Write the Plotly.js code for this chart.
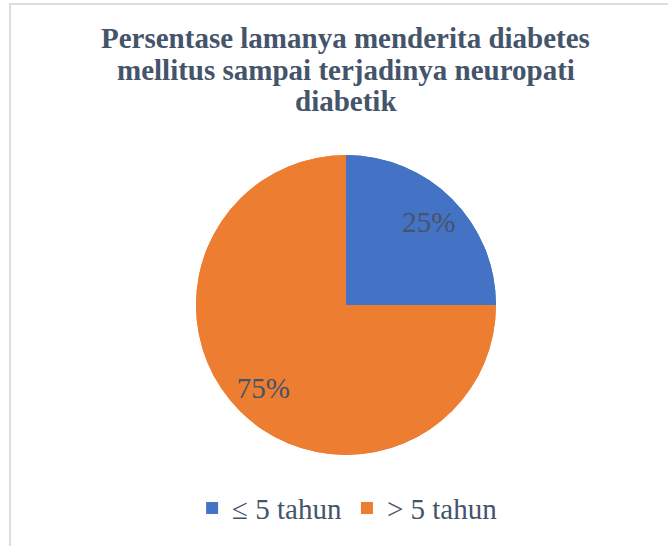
<!DOCTYPE html>
<html>
<head>
<meta charset="utf-8">
<script src="https://cdn.plot.ly/plotly-3.0.1.min.js"></script>
<style>
  html, body { margin: 0; padding: 0; background: #fff; }
  #wrap { position: relative; width: 668px; height: 546px; overflow: hidden; }
  #frame { position: absolute; left: 9px; top: 3px; width: 700px; height: 600px;
           border-top: 2px solid #D9DEE6; border-left: 2px solid #D9DEE6;
           pointer-events: none; z-index: 10; }
  #chart { position: absolute; left: 0; top: 0; width: 668px; height: 546px; }
</style>
</head>
<body>
<div id="wrap">
  <div id="chart"></div>
  <div id="frame"></div>
</div>
<script>
const categories = ["\u2264 5 tahun", "> 5 tahun"];
const values = [25, 75];
const colors = ["#4472C4", "#ED7D31"];
const titleLines = [
  "Persentase lamanya menderita diabetes",
  "mellitus sampai terjadinya neuropati",
  "diabetik"
];

const serif = "Liberation Serif";
const pieDomain = { x: [0.287, 0.75], y: [0, 1] };

// full pie underneath (fills the centre)
const base = {
  type: "pie", labels: categories, values: values, sort: false,
  direction: "clockwise", rotation: 0, domain: pieDomain,
  marker: { colors: colors, line: { width: 0 } },
  textinfo: "none", showlegend: false, hoverinfo: "skip"
};
// ring on top carrying the labels (puts them at ~0.78 of the radius)
const ring = {
  type: "pie", labels: categories, values: values, sort: false,
  direction: "clockwise", rotation: 0, hole: 0.56, domain: pieDomain,
  marker: { colors: colors, line: { width: 0 } },
  textinfo: "percent", texttemplate: "%{percent:.0%}",
  textposition: "inside", insidetextorientation: "horizontal",
  textfont: { family: serif, size: 29, color: "#44546A" },
  hoverinfo: "label+percent"
};

const titleY = [1.39, 1.285, 1.18];
const annotations = titleLines.map((t, i) => ({
  text: t, xref: "paper", yref: "paper", x: 0.5185, y: titleY[i],
  xanchor: "center", yanchor: "middle", showarrow: false,
  font: { family: serif, size: 29, color: "#44546A", weight: "bold" }
}));

const layout = {
  width: 668, height: 546,
  margin: { l: 10, r: 10, t: 155, b: 91 },
  paper_bgcolor: "#ffffff", plot_bgcolor: "#ffffff",
  font: { family: serif },
  annotations: annotations,
  showlegend: true,
  legend: {
    orientation: "h", x: 0.521, xanchor: "center",
    y: -0.177, yanchor: "middle",
    font: { family: serif, size: 29, color: "#44546A" }, itemwidth: 30
  }
};

Plotly.newPlot("chart", [base, ring], layout, { displayModeBar: false, staticPlot: true });
</script>
</body>
</html>
